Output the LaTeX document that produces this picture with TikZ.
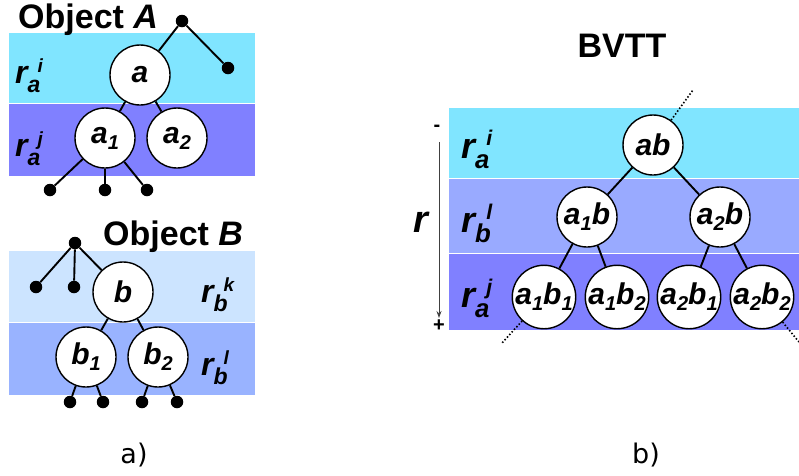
\documentclass[tikz,border=0pt]{standalone}
\usepackage{fontspec}
\usepackage{graphicx}
\setmainfont{Liberation Sans}
\newfontfamily\dvs{DejaVu Sans}
\usetikzlibrary{arrows.meta}
\definecolor{cA}{HTML}{80E5FF}
\definecolor{cP}{HTML}{8080FF}
\definecolor{cL}{HTML}{CCE4FF}
\definecolor{cM}{HTML}{99B3FF}
\definecolor{cR}{HTML}{99AAFF}
\newcommand\rlab[2]{{\fontsize{32}{32}\selectfont\bfseries\itshape r\makebox[0pt][l]{\raisebox{-9pt}{\fontsize{23}{23}\selectfont #1}}\hspace{10pt}\raisebox{11pt}{\fontsize{19}{19}\selectfont #2}}}
\newcommand\sbs[1]{\raisebox{-6pt}{\fontsize{20}{20}\selectfont #1}}
\begin{document}
\begin{tikzpicture}[x=1pt,y=-1pt,
  nd/.style={circle,draw,fill=white,line width=1.4pt,minimum size=60pt,inner sep=0pt,font=\fontsize{30}{30}\selectfont\bfseries\itshape},
  dot/.style={circle,fill=black,minimum size=12.5pt,inner sep=0pt},
  edge/.style={line width=1.9pt},
  dotline/.style={line width=1.6pt,dash pattern=on 1.5pt off 2pt},
  band/.style={draw=white,line width=0.7pt},
  lbl/.style={anchor=base west,inner sep=0pt},
  ttl/.style={inner sep=0pt,font=\fontsize{34}{34}\selectfont\bfseries}]
\useasboundingbox (0,0) rectangle (799,475);
% bands
\filldraw[band,fill=cA] (8,32) rectangle (255,103);
\filldraw[band,fill=cP] (8,103) rectangle (255,176);
\filldraw[band,fill=cL] (8,250) rectangle (255,322);
\filldraw[band,fill=cM] (8,322) rectangle (255,395);
\filldraw[band,fill=cA] (448,107) rectangle (799,178);
\filldraw[band,fill=cR] (448,178) rectangle (799,253);
\filldraw[band,fill=cP] (448,253) rectangle (799,330);
% titles
\node[ttl,anchor=base west] (tA) at (18,28) {Object \textit{A}};
\node[ttl,anchor=base west] (tB) at (103,245) {Object \textit{B}};
\node[ttl,anchor=base] (tC) at (622,57) {BVTT};
% object A
\node[dot] (rA) at (182,21) {};
\node[dot] (dA) at (228,68) {};
\node[nd] (a) at (140,75) {a};
\node[nd] (a1) at (105,138) {a\sbs{1}};
\node[nd] (a2) at (177,138) {a\sbs{2}};
\node[dot] (lA1) at (50,190) {};
\node[dot] (lA2) at (105,190) {};
\node[dot] (lA3) at (147,190) {};
\draw[edge] (rA) -- (dA);
\draw[edge] (rA) -- (a);
\draw[edge] (a) -- (a1);
\draw[edge] (a) -- (a2);
\draw[edge] (a1) -- (lA1);
\draw[edge] (a1) -- (lA2);
\draw[edge] (a1) -- (lA3);
\node[lbl] (la1) at (15,83) {\rlab{a}{i}};
\node[lbl] (la2) at (15,156) {\rlab{a}{j}};
% object B
\node[dot] (rB) at (75,243) {};
\node[dot] (dB1) at (36,287) {};
\node[dot] (dB2) at (74,287) {};
\node[nd] (b) at (123,292) {b};
\node[nd] (b1) at (86,357) {b\sbs{1}};
\node[nd] (b2) at (158,357) {b\sbs{2}};
\node[dot] (lB1) at (70,402) {};
\node[dot] (lB2) at (103,402) {};
\node[dot] (lB3) at (142,402) {};
\node[dot] (lB4) at (177,402) {};
\draw[edge] (rB) -- (dB1);
\draw[edge] (rB) -- (dB2);
\draw[edge] (rB) -- (b);
\draw[edge] (b) -- (b1);
\draw[edge] (b) -- (b2);
\draw[edge] (b1) -- (lB1);
\draw[edge] (b1) -- (lB2);
\draw[edge] (b2) -- (lB3);
\draw[edge] (b2) -- (lB4);
\node[lbl] (lb1) at (201,302) {\rlab{b}{k}};
\node[lbl] (lb2) at (201,375) {\rlab{b}{l}};
% BVTT
\node[nd] (ab) at (653,145) {ab};
\node[nd] (a1b) at (587,217) {a\sbs{1}b};
\node[nd] (a2b) at (720,217) {a\sbs{2}b};
\node[nd] (a1b1) at (544,297) {a\sbs{1}b\sbs{1}};
\node[nd] (a1b2) at (617,297) {a\sbs{1}b\sbs{2}};
\node[nd] (a2b1) at (689,297) {a\sbs{2}b\sbs{1}};
\node[nd] (a2b2) at (762,297) {a\sbs{2}b\sbs{2}};
\draw[edge] (ab) -- (a1b);
\draw[edge] (ab) -- (a2b);
\draw[edge] (a1b) -- (a1b1);
\draw[edge] (a1b) -- (a1b2);
\draw[edge] (a2b) -- (a2b1);
\draw[edge] (a2b) -- (a2b2);
\coordinate (dt1) at (693,90);
\coordinate (dt2) at (502,343);
\coordinate (dt3) at (799,342);
\draw[dotline] (ab) -- (dt1);
\draw[dotline] (a1b1) -- (dt2);
\draw[dotline] (a2b2) -- (dt3);
\node[lbl] (lr1) at (461,158) {\scalebox{1.12}{\rlab{a}{i}}};
\node[lbl] (lr2) at (461,232) {\scalebox{1.12}{\rlab{b}{l}}};
\node[lbl] (lr3) at (461,307) {\scalebox{1.12}{\rlab{a}{j}}};
\node[lbl] (bigr) at (413,232) {\fontsize{38}{38}\selectfont\bfseries\itshape r};
\node[inner sep=0pt,font=\fontsize{20}{20}\selectfont\bfseries] (mn) at (437,128) {-};
\node[inner sep=0pt,font=\fontsize{20}{20}\selectfont\bfseries] (pl) at (439,326) {+};
\coordinate (at) at (439,142);
\coordinate (abt) at (439,318);
\draw[line width=0.9pt,black!75,-{Stealth[length=7pt,width=5pt]}] (at) -- (abt);
% captions
\node[inner sep=0pt,font=\dvs\fontsize{27}{27}\selectfont] (ca) at (134,455) {a)};
\node[inner sep=0pt,font=\dvs\fontsize{27}{27}\selectfont] (cb) at (646,455) {b)};
\end{tikzpicture}
\end{document}
